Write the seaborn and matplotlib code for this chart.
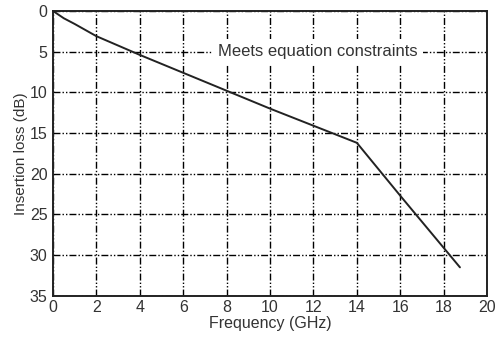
import matplotlib
matplotlib.use("Agg")
import matplotlib.pyplot as plt
import seaborn as sns
import pandas as pd

# Insertion loss vs frequency
freq_ghz = [0.0, 0.5, 1.0, 2.0, 4.0, 6.0, 8.0, 10.0, 12.0, 14.0, 16.0, 18.0, 18.75]
loss_db = [0.0, 0.9, 1.6, 3.1, 5.4, 7.6, 9.8, 12.0, 14.1, 16.2, 22.7, 29.1, 31.5]
x_ticks = [0, 2, 4, 6, 8, 10, 12, 14, 16, 18, 20]
y_ticks = [0, 5, 10, 15, 20, 25, 30, 35]
note = "Meets equation constraints"

df = pd.DataFrame({"freq": freq_ghz, "loss": loss_db})

sns.set_style("white")
plt.rcParams["font.family"] = ["Liberation Sans", "DejaVu Sans"]

fig, ax = plt.subplots(figsize=(4.95, 3.42), dpi=100)
fig.subplots_adjust(left=0.107, right=0.984, top=0.968, bottom=0.135)

sns.lineplot(data=df, x="freq", y="loss", ax=ax, color="#222222", linewidth=1.4)

ax.set_xlim(0, 20)
ax.set_ylim(35, 0)
ax.set_xticks(x_ticks)
ax.set_yticks(y_ticks)
grid_dash = (0, (5, 1.5, 1, 1.5, 1, 1.5))
ax.grid(True, color="black", linewidth=1.0, linestyle=grid_dash)
ax.set_axisbelow(True)

for s in ax.spines.values():
    s.set_color("#222222")
    s.set_linewidth(1.4)

ax.tick_params(axis="x", labelsize=11.5, colors="#333333", length=0, pad=3)
ax.tick_params(axis="y", labelsize=11.5, colors="#333333", length=0, pad=4)
ax.set_xlabel("Frequency (GHz)", fontsize=11.5, color="#333333", labelpad=1)
ax.set_ylabel("Insertion loss (dB)", fontsize=11, color="#333333", labelpad=1)

ax.text(12.2, 5, note, ha="center", va="center", fontsize=12, color="#333333",
        bbox=dict(facecolor="white", edgecolor="none", pad=4), zorder=3)

fig.savefig("out.png", dpi=100)
